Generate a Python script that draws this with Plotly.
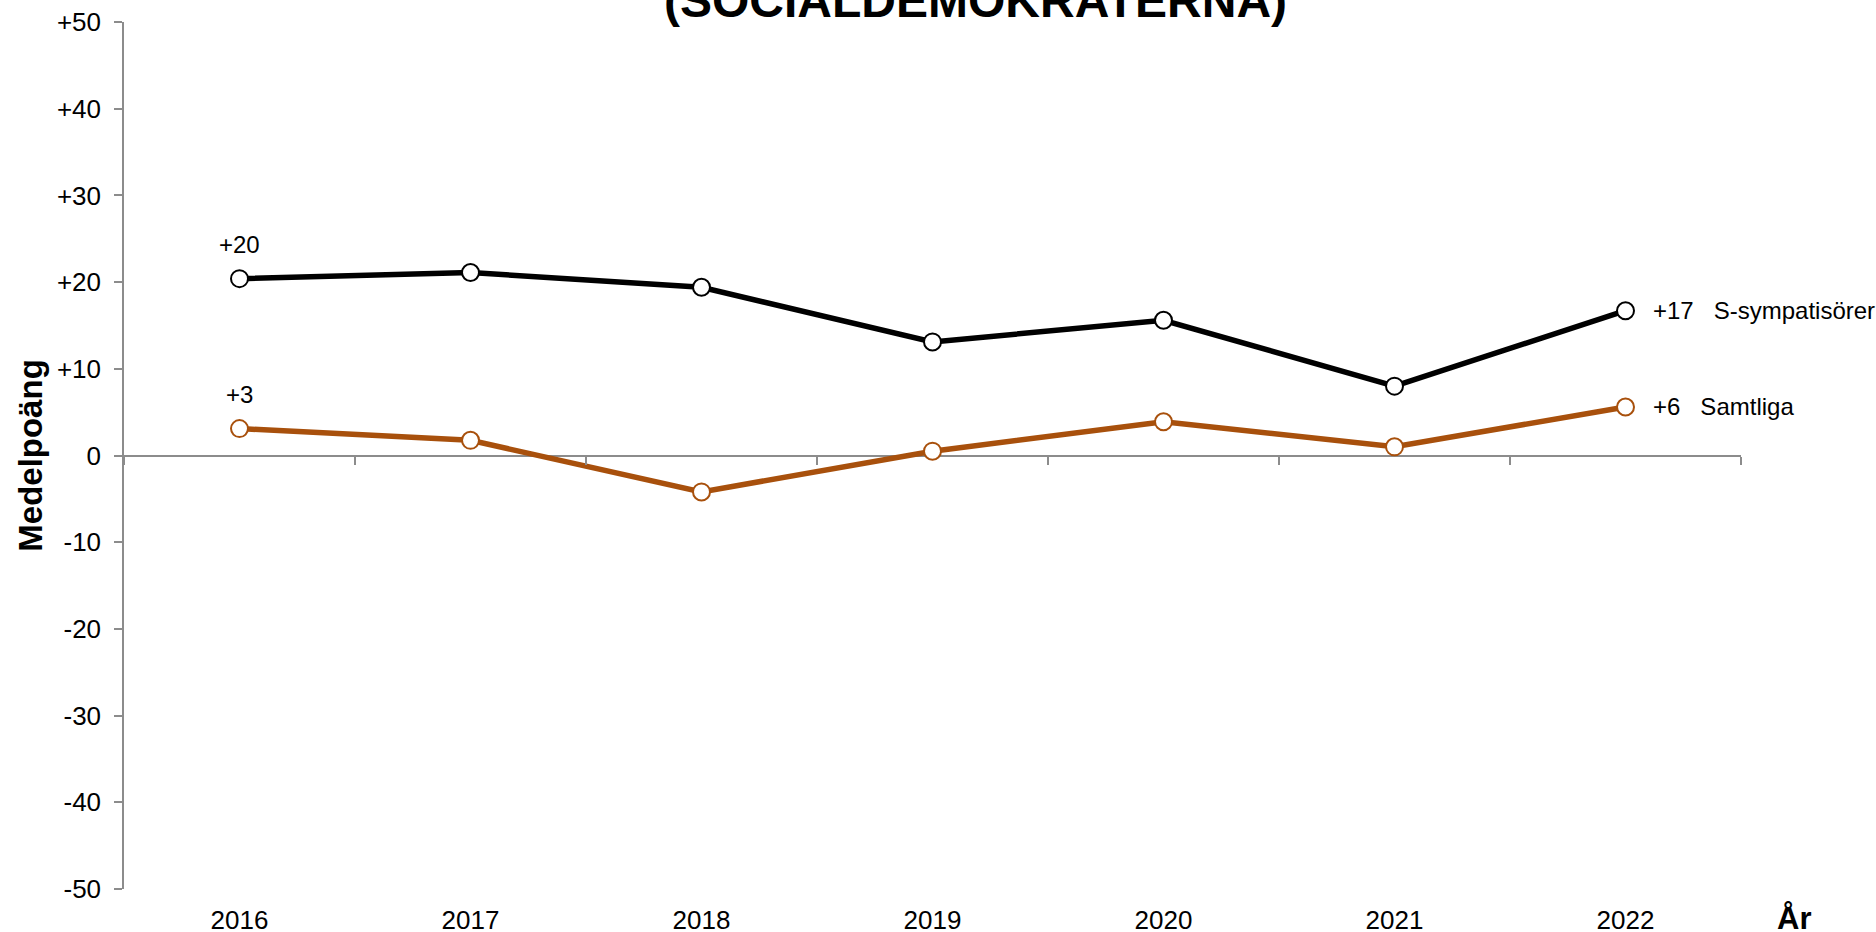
import plotly.graph_objects as go

years = ["2016", "2017", "2018", "2019", "2020", "2021", "2022"]
s_sympatisorer = [20.4, 21.1, 19.4, 13.1, 15.6, 8.0, 16.7]
samtliga = [3.1, 1.75, -4.2, 0.5, 3.9, 1.0, 5.6]
series_names = ["S-sympatisörer", "Samtliga"]
series_values = [s_sympatisorer, samtliga]
series_colors = ["#000000", "#A8500C"]
y_tickvals = [50, 40, 30, 20, 10, 0, -10, -20, -30, -40, -50]
y_ticktext = ["+50", "+40", "+30", "+20", "+10", "0", "-10", "-20", "-30", "-40", "-50"]
title_text = "(SOCIALDEMOKRATERNA)"
y_title = "Medelpoäng"
x_title = "År"

FONT = "Liberation Sans, Arial, sans-serif"
AXIS_GRAY = "#8C8C8C"

fig = go.Figure()

for name, vals, col in zip(series_names, series_values, series_colors):
    fig.add_trace(go.Scatter(
        x=years, y=vals, mode="lines+markers", name=name,
        line=dict(color=col, width=5.5),
        marker=dict(symbol="circle", size=17, color="white",
                    line=dict(color=col, width=2)),
        showlegend=False, xaxis="x", yaxis="y",
    ))

# invisible trace to carry the tick-mark axis on the zero line
fig.add_trace(go.Scatter(x=years, y=[None] * len(years), mode="markers",
                         showlegend=False, hoverinfo="skip", xaxis="x2", yaxis="y"))

annotations = []
for name, vals, col in zip(series_names, series_values, series_colors):
    first = vals[0]
    annotations.append(dict(
        x=0, y=first, xref="x", yref="y", text=f"{round(first):+d}",
        showarrow=False, xanchor="center", yanchor="middle", yshift=34,
        font=dict(family=FONT, size=24, color="black")))
    last = vals[-1]
    annotations.append(dict(
        x=len(years) - 1, y=last, xref="x", yref="y",
        text=f"{round(last):+d}" + "\u00a0\u00a0\u00a0" + name,
        showarrow=False, xanchor="left", yanchor="middle", xshift=25,
        font=dict(family=FONT, size=24, color="black")))

annotations.append(dict(
    x=0.5263, y=1, xref="paper", yref="paper", text=f"<b>{title_text}</b>",
    showarrow=False, xanchor="center", yanchor="bottom", yshift=-7.5,
    font=dict(family=FONT, size=48, color="black")))
annotations.append(dict(
    x=-0.058, y=0.5, xref="paper", yref="paper", text=f"<b>{y_title}</b>",
    textangle=-90, showarrow=False, xanchor="center", yanchor="middle",
    font=dict(family=FONT, size=33, color="black")))
annotations.append(dict(
    x=1.0328, y=0, xref="paper", yref="paper", text=f"<b>{x_title}</b>",
    showarrow=False, xanchor="center", yanchor="top", yshift=-10,
    font=dict(family=FONT, size=31, color="black")))

fig.update_layout(
    width=1876, height=932,
    margin=dict(l=124, r=135, t=22, b=43, pad=0, autoexpand=False),
    paper_bgcolor="white", plot_bgcolor="white",
    font=dict(family=FONT, size=26, color="black"),
    annotations=annotations,
    xaxis=dict(
        type="category", categoryorder="array", categoryarray=years,
        range=[-0.5, 6.5], showline=False, showgrid=False, zeroline=False,
        ticks="", showticklabels=True, ticklabelstandoff=13, automargin=False,
        tickfont=dict(family=FONT, size=26, color="black"),
    ),
    xaxis2=dict(
        type="category", categoryorder="array", categoryarray=years,
        range=[-0.5, 6.5], overlaying="x", anchor="free", position=0.5,
        side="bottom", showline=False, showgrid=False, zeroline=False,
        ticks="outside", ticklen=8, tickwidth=1.5, tickcolor=AXIS_GRAY,
        tickson="boundaries", showticklabels=False, automargin=False,
    ),
    yaxis=dict(
        range=[-50, 50], tickmode="array", tickvals=y_tickvals, ticktext=y_ticktext,
        showline=True, linecolor=AXIS_GRAY, linewidth=1.5,
        ticks="outside", ticklen=8, tickwidth=1.5, tickcolor=AXIS_GRAY,
        showgrid=False, zeroline=True, zerolinecolor=AXIS_GRAY, zerolinewidth=1.5,
        tickfont=dict(family=FONT, size=26, color="black"), ticklabelstandoff=8,
        automargin=False,
    ),
)

fig.write_html("out.html", config={"displayModeBar": False},
               post_script="document.body.style.margin='0';document.body.style.overflow='hidden';")
